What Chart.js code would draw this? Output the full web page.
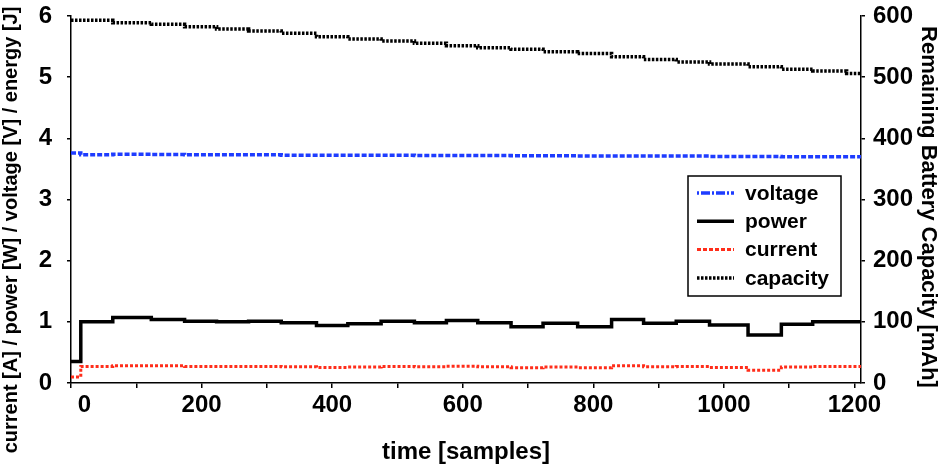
<!DOCTYPE html>
<html>
<head>
<meta charset="utf-8">
<script src="https://cdn.jsdelivr.net/npm/chart.js@4.4.1/dist/chart.umd.min.js"></script>
<style>
  html, body { margin: 0; padding: 0; background: #fff; }
  #wrap { width: 939px; height: 467px; }
</style>
</head>
<body>
<div id="wrap"><canvas id="battChart" width="939" height="467"></canvas></div>
<script>
// Battery log: step segments (sample index where each segment starts)
const segStart = [0, 15, 64, 123, 174, 223, 272, 322, 376, 424, 475, 526, 575, 623, 674, 723, 776, 828, 877, 927, 978, 1037, 1088, 1136, 1188];
const lastSample = 1210;

const voltage  = [3.76, 3.73, 3.74, 3.735, 3.73, 3.73, 3.73, 3.725, 3.725, 3.725, 3.725, 3.72, 3.72, 3.72, 3.715, 3.715, 3.71, 3.71, 3.71, 3.71, 3.705, 3.705, 3.70, 3.70, 3.70];
const power    = [0.35, 1.00, 1.07, 1.04, 1.01, 1.00, 1.01, 0.985, 0.94, 0.97, 1.01, 0.985, 1.02, 0.985, 0.92, 0.975, 0.92, 1.04, 0.975, 1.01, 0.95, 0.785, 0.96, 1.00, 1.00];
const current  = [0.10, 0.27, 0.28, 0.28, 0.27, 0.27, 0.27, 0.265, 0.255, 0.26, 0.27, 0.265, 0.275, 0.265, 0.25, 0.26, 0.25, 0.28, 0.265, 0.27, 0.255, 0.21, 0.26, 0.27, 0.27];
const capacity = [593, 593, 589, 586.4, 582.5, 578.7, 575.5, 571.7, 566, 562.5, 559, 555.3, 551.4, 548.1, 545.5, 541.6, 538.5, 533.4, 529, 525, 521.5, 517, 513, 510, 506];

// x ticks every 100 samples, labelled every 200
const xTickValues = [0, 100, 200, 300, 400, 500, 600, 700, 800, 900, 1000, 1100, 1200];
const xLabelEvery = 200;
const seriesNames = ['voltage', 'power', 'current', 'capacity'];
const leftTitle = 'current [A] / power [W] / voltage [V] / energy [J]';
const rightTitle = 'Remaining Battery Capacity [mAh]';
const xTitle = 'time [samples]';

const FONT = "'Liberation Sans', Arial, Helvetica, sans-serif";
Chart.defaults.font.family = FONT;
Chart.defaults.font.weight = 'bold';
Chart.defaults.color = '#000';

const toSteps = (vals) => segStart.map((x, i) => ({ x: x, y: vals[i] }))
  .concat([{ x: lastSample, y: vals[vals.length - 1] }]);

const styles = {
  voltage:  { color: '#1e3cff', width: 3.5, dash: [5, 2], legendDash: [2, 2, 9, 2] },
  power:    { color: '#000000', width: 3.5, dash: [], legendDash: [] },
  current:  { color: '#ff2d1a', width: 3, dash: [3, 2], legendDash: [4, 2] },
  capacity: { color: '#000000', width: 3.5, dash: [2.5, 1.5], legendDash: [2.5, 1.5] }
};

// legend box + rotated y titles
const extras = {
  id: 'extras',
  afterDraw(chart) {
    const { ctx, chartArea } = chart;
    ctx.save();

    ctx.fillStyle = '#000';
    ctx.textAlign = 'center';
    ctx.textBaseline = 'middle';
    ctx.font = 'bold 20px ' + FONT;
    ctx.save();
    ctx.translate(11, 230);
    ctx.rotate(-Math.PI / 2);
    ctx.fillText(leftTitle, 0, 0);
    ctx.restore();
    ctx.font = 'bold 22px ' + FONT;
    ctx.save();
    ctx.translate(928, 207);
    ctx.rotate(Math.PI / 2);
    ctx.fillText(rightTitle, 0, 0);
    ctx.restore();

    // legend
    const bx = chartArea.right - 173, by = chartArea.top + 160, bw = 153, bh = 120;
    ctx.fillStyle = '#fff';
    ctx.fillRect(bx, by, bw, bh);
    ctx.strokeStyle = '#000';
    ctx.lineWidth = 1.5;
    ctx.setLineDash([]);
    ctx.strokeRect(bx, by, bw, bh);
    ctx.font = 'bold 21px ' + FONT;
    ctx.textAlign = 'left';
    seriesNames.forEach((name, i) => {
      const st = styles[name];
      const y = by + 17 + i * 28.3;
      ctx.strokeStyle = st.color;
      ctx.lineWidth = st.width;
      ctx.setLineDash(st.legendDash);
      ctx.beginPath();
      ctx.moveTo(bx + 9, y);
      ctx.lineTo(bx + 46, y);
      ctx.stroke();
      ctx.fillStyle = '#000';
      ctx.fillText(name, bx + 57, y + 1);
    });
    ctx.restore();
  }
};

// 'before' = hold each value until the next segment start
const mkSet = (name, vals, axis) => ({
  label: name,
  data: toSteps(vals),
  yAxisID: axis,
  borderColor: styles[name].color,
  borderWidth: styles[name].width,
  borderDash: styles[name].dash,
  borderCapStyle: 'butt',
  stepped: 'before',
  pointRadius: 0,
  fill: false
});

const noPadY = (w) => (s) => { s.width = w; s.paddingTop = 0; s.paddingBottom = 0; };

new Chart(document.getElementById('battChart'), {
  type: 'line',
  data: {
    datasets: [
      mkSet('capacity', capacity, 'yR'),
      mkSet('current', current, 'y'),
      mkSet('power', power, 'y'),
      mkSet('voltage', voltage, 'y')
    ]
  },
  options: {
    responsive: false,
    animation: false,
    devicePixelRatio: 1,
    layout: { padding: { top: 16, left: 0, right: 0, bottom: 0 } },
    plugins: {
      legend: { display: false },
      tooltip: { enabled: false }
    },
    scales: {
      x: {
        type: 'linear',
        min: 0,
        max: lastSample,
        afterBuildTicks: (s) => { s.ticks = xTickValues.map(v => ({ value: v })); },
        afterFit: (s) => { s.height = 84; s.paddingLeft = 0; s.paddingRight = 0; },
        border: { display: true, color: '#000', width: 1.5 },
        grid: { drawOnChartArea: false, drawTicks: true, tickLength: 5, color: '#000', lineWidth: 1.5 },
        ticks: {
          autoSkip: false,
          maxRotation: 0,
          padding: 3,
          font: { size: 24, weight: 'bold' },
          callback: (v) => {
            const n = Math.round(v);
            if (n % xLabelEvery !== 0) return '';
            return n === 0 ? '    0' : String(n);
          }
        },
        title: { display: true, text: xTitle, font: { size: 24, weight: 'bold' }, padding: { top: 0, bottom: 0 } }
      },
      y: {
        position: 'left',
        min: 0,
        max: 6,
        afterFit: noPadY(71),
        border: { display: true, color: '#000', width: 1.5 },
        grid: { drawOnChartArea: false, drawTicks: true, tickLength: 4, color: '#000', lineWidth: 1.5 },
        ticks: { stepSize: 1, padding: 15, font: { size: 24, weight: 'bold' } }
      },
      yR: {
        position: 'right',
        min: 0,
        max: 600,
        afterFit: noPadY(78),
        border: { display: true, color: '#000', width: 1.5 },
        grid: { drawOnChartArea: false, drawTicks: true, tickLength: 4, color: '#000', lineWidth: 1.5 },
        ticks: { stepSize: 100, padding: 8, font: { size: 24, weight: 'bold' } }
      }
    }
  },
  plugins: [extras]
});
</script>
</body>
</html>
